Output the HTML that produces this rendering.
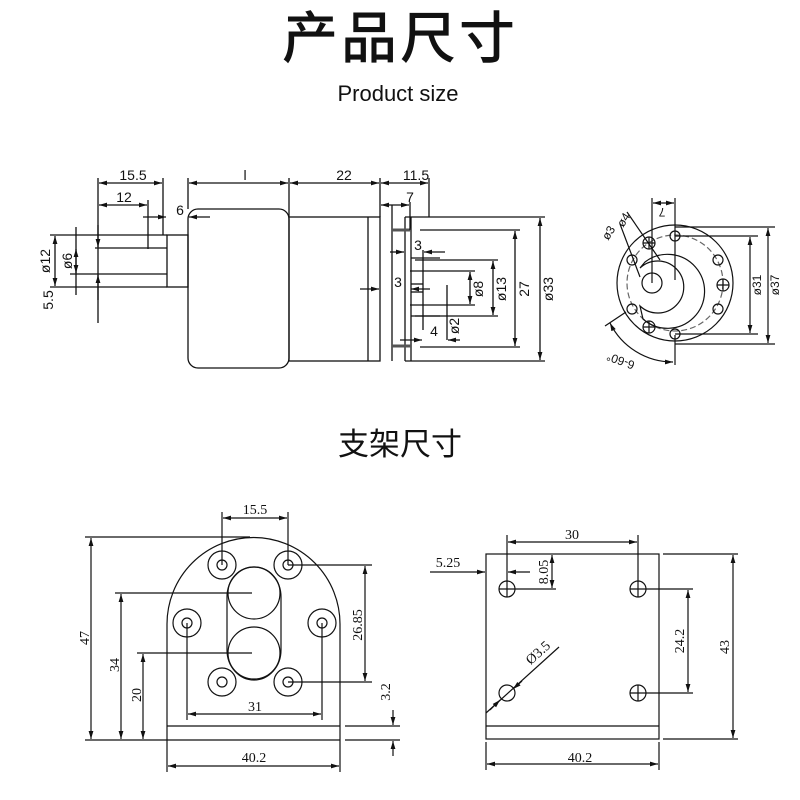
<!DOCTYPE html>
<html><head><meta charset="utf-8"><style>
html,body{margin:0;padding:0;background:#fff;}
svg{display:block;}
text{font-family:"Liberation Sans","Noto Sans CJK SC",sans-serif;fill:#111;}
.s{font-family:"Liberation Serif","Noto Serif CJK SC",serif;}
</style></head><body>
<svg width="800" height="800" viewBox="0 0 800 800" xmlns="http://www.w3.org/2000/svg">
<defs>
<marker id="a" viewBox="0 0 10 6" refX="10" refY="3" markerWidth="8" markerHeight="5" orient="auto-start-reverse" markerUnits="userSpaceOnUse"><path d="M0,0 L10,3 L0,6z" fill="#111"/></marker>
</defs>
<text x="400" y="58" text-anchor="middle" font-size="56" font-weight="500" style="font-family:'Noto Sans CJK SC',sans-serif" letter-spacing="3">产品尺寸</text>
<text x="398" y="101" text-anchor="middle" font-size="22">Product size</text>
<text x="400" y="455" text-anchor="middle" font-size="31" style="font-family:'Noto Sans CJK SC',sans-serif">支架尺寸</text>

<g stroke="#111" stroke-width="1.3" fill="none">
<rect x="188" y="209" width="101" height="159" rx="10"/>
<rect x="289" y="217" width="91" height="144"/>
<line x1="368" y1="217" x2="368" y2="361"/>
<rect x="167" y="235" width="21" height="52"/>
<line x1="50" y1="235" x2="167" y2="235"/>
<line x1="50" y1="287" x2="167" y2="287"/>
<line x1="95" y1="248" x2="167" y2="248"/>
<line x1="70" y1="274" x2="167" y2="274"/>
<line x1="392" y1="205" x2="392" y2="361"/>
<line x1="405" y1="217" x2="405" y2="361"/>
<line x1="411" y1="217" x2="411" y2="361"/>
<line x1="405" y1="217" x2="545" y2="217"/>
<line x1="405" y1="361" x2="545" y2="361"/>
<line x1="392" y1="230" x2="411" y2="230" stroke-width="3" stroke="#555"/>
<line x1="392" y1="346" x2="411" y2="346" stroke-width="3" stroke="#555"/>
<line x1="420" y1="230" x2="520" y2="230"/>
<line x1="420" y1="347" x2="520" y2="347"/>
<line x1="423" y1="250" x2="423" y2="330"/>
<line x1="411" y1="258" x2="440" y2="258"/>
<line x1="411" y1="316" x2="440" y2="316"/>
<line x1="415" y1="260" x2="498" y2="260"/>
<line x1="415" y1="316" x2="498" y2="316"/>
<line x1="410" y1="271" x2="475" y2="271"/>
<line x1="410" y1="305" x2="475" y2="305"/>
<line x1="411" y1="284" x2="423" y2="284"/><line x1="411" y1="292" x2="423" y2="292"/>
<line x1="98" y1="178" x2="98" y2="323"/>
<line x1="163" y1="178" x2="163" y2="235"/>
<line x1="188" y1="178" x2="188" y2="209"/>
<line x1="289" y1="178" x2="289" y2="217"/>
<line x1="380" y1="178" x2="380" y2="217"/>
<line x1="429" y1="178" x2="429" y2="217"/>
<line x1="148" y1="200" x2="148" y2="249"/>
<line x1="410" y1="202" x2="410" y2="230"/>
<line x1="99" y1="183" x2="162" y2="183" marker-start="url(#a)" marker-end="url(#a)"/>
<line x1="189" y1="183" x2="288" y2="183" marker-start="url(#a)" marker-end="url(#a)"/>
<line x1="290" y1="183" x2="379" y2="183" marker-start="url(#a)" marker-end="url(#a)"/>
<line x1="381" y1="183" x2="428" y2="183" marker-start="url(#a)" marker-end="url(#a)"/>
<line x1="99" y1="205" x2="147" y2="205" marker-start="url(#a)" marker-end="url(#a)"/>
<line x1="381" y1="205" x2="409" y2="205" marker-start="url(#a)" marker-end="url(#a)"/>
<line x1="143" y1="217" x2="166" y2="217" marker-end="url(#a)"/>
<line x1="210" y1="217" x2="189" y2="217" marker-end="url(#a)"/>
<line x1="98" y1="225" x2="98" y2="247" marker-end="url(#a)"/>
<line x1="98" y1="300" x2="98" y2="275" marker-end="url(#a)"/>
<line x1="55" y1="236" x2="55" y2="286" marker-start="url(#a)" marker-end="url(#a)"/>
<line x1="76" y1="227" x2="76" y2="295"/>
<line x1="76" y1="249" x2="76" y2="273" marker-start="url(#a)" marker-end="url(#a)"/>
<line x1="540" y1="218" x2="540" y2="360" marker-start="url(#a)" marker-end="url(#a)"/>
<line x1="515" y1="231" x2="515" y2="346" marker-start="url(#a)" marker-end="url(#a)"/>
<line x1="493" y1="261" x2="493" y2="315" marker-start="url(#a)" marker-end="url(#a)"/>
<line x1="470" y1="272" x2="470" y2="304" marker-start="url(#a)" marker-end="url(#a)"/>
<line x1="447" y1="285" x2="447" y2="340"/>
<line x1="390" y1="252" x2="404" y2="252" marker-end="url(#a)"/>
<line x1="445" y1="252" x2="424" y2="252" marker-end="url(#a)"/>
<line x1="360" y1="289" x2="379" y2="289" marker-end="url(#a)"/>
<line x1="430" y1="289" x2="411" y2="289" marker-end="url(#a)"/>
<line x1="400" y1="340" x2="422" y2="340" marker-end="url(#a)"/>
<line x1="460" y1="340" x2="448" y2="340" marker-end="url(#a)"/>
</g>
<g font-size="14">
<text x="133" y="180" text-anchor="middle">15.5</text>
<text x="245" y="180" text-anchor="middle">l</text>
<text x="344" y="180" text-anchor="middle">22</text>
<text x="416" y="180" text-anchor="middle">11.5</text>
<text x="124" y="202" text-anchor="middle">12</text>
<text x="180" y="215" text-anchor="middle">6</text>
<text x="410" y="202" text-anchor="middle">7</text>
<text x="418" y="250" text-anchor="middle">3</text>
<text x="398" y="287" text-anchor="middle">3</text>
<text x="434" y="336" text-anchor="middle">4</text>
<text transform="translate(53,300) rotate(-90)" text-anchor="middle">5.5</text>
<text transform="translate(50,261) rotate(-90)" text-anchor="middle">ø12</text>
<text transform="translate(72,261) rotate(-90)" text-anchor="middle">ø6</text>
<text transform="translate(553,289) rotate(-90)" text-anchor="middle">ø33</text>
<text transform="translate(529,289) rotate(-90)" text-anchor="middle">27</text>
<text transform="translate(506,289) rotate(-90)" text-anchor="middle">ø13</text>
<text transform="translate(483,289) rotate(-90)" text-anchor="middle">ø8</text>
<text transform="translate(459,326) rotate(-90)" text-anchor="middle">ø2</text>
</g>

<g stroke="#111" stroke-width="1.2" fill="none">
<circle cx="675" cy="283" r="58"/>
<circle cx="675" cy="283" r="48" stroke-dasharray="6 3" stroke="#666"/>
<path d="M643,319 A37,37 0 1 0 645,262 L 640,268 A26,26 0 1 1 640,306 Z"/>
<circle cx="652" cy="283" r="10"/>
<circle cx="675" cy="236" r="5"/><circle cx="675" cy="334" r="5"/>
<circle cx="632" cy="260" r="5"/><circle cx="718" cy="260" r="5"/>
<circle cx="632" cy="309" r="5"/><circle cx="718" cy="309" r="5"/>
<circle cx="649" cy="243" r="6"/><path d="M643,243h12M649,237v12"/>
<circle cx="723" cy="285" r="6"/><path d="M717,285h12M723,279v12"/>
<circle cx="649" cy="327" r="6"/><path d="M643,327h12M649,321v12"/>
<line x1="652" y1="198" x2="652" y2="283"/>
<line x1="675" y1="198" x2="675" y2="280"/>
<line x1="653" y1="203" x2="674" y2="203" marker-start="url(#a)" marker-end="url(#a)"/>
<line x1="675" y1="335" x2="675" y2="365"/>
<line x1="627" y1="212" x2="660" y2="260"/>
<line x1="620" y1="224" x2="640" y2="277"/>
<line x1="675" y1="236" x2="758" y2="236"/>
<line x1="675" y1="334" x2="758" y2="334"/>
<line x1="675" y1="227" x2="775" y2="227"/>
<line x1="675" y1="344" x2="775" y2="344"/>
<line x1="750" y1="237" x2="750" y2="333" marker-start="url(#a)" marker-end="url(#a)"/>
<line x1="768" y1="228" x2="768" y2="343" marker-start="url(#a)" marker-end="url(#a)"/>
<line x1="626" y1="312" x2="605" y2="326"/>
<path d="M610,323 A70,70 0 0 0 673,362" marker-start="url(#a)" marker-end="url(#a)"/>
</g>
<g font-size="12">
<text transform="translate(761,285) rotate(-90)" text-anchor="middle">ø31</text>
<text transform="translate(779,285) rotate(-90)" text-anchor="middle">ø37</text>
<text transform="translate(662,208) rotate(180)" text-anchor="middle">7</text>
<text transform="translate(612,235) rotate(-58)" text-anchor="middle">ø3</text>
<text transform="translate(627,222) rotate(-58)" text-anchor="middle">ø4</text>
<text transform="translate(622,357) rotate(200)" text-anchor="middle">6-60°</text>
</g>

<g stroke="#111" stroke-width="1.2" fill="none">
<path d="M167,740 L167,624 A86.5,86.5 0 0 1 340,624 L340,740"/>
<line x1="167" y1="726" x2="340" y2="726"/>
<line x1="85" y1="740" x2="340" y2="740"/>
<line x1="345" y1="726" x2="400" y2="726"/><line x1="345" y1="740" x2="400" y2="740"/>
<circle cx="222" cy="565" r="14"/><circle cx="222" cy="565" r="5"/>
<circle cx="288" cy="565" r="14"/><circle cx="288" cy="565" r="5"/>
<circle cx="187" cy="623" r="14"/><circle cx="187" cy="623" r="5"/>
<circle cx="322" cy="623" r="14"/><circle cx="322" cy="623" r="5"/>
<circle cx="222" cy="682" r="14"/><circle cx="222" cy="682" r="5"/>
<circle cx="288" cy="682" r="14"/><circle cx="288" cy="682" r="5"/>
<circle cx="254" cy="593" r="26"/><circle cx="254" cy="653" r="26"/>
<path d="M227,597 A27,30 0 0 1 281,597 L281,650 A27,30 0 0 1 227,650 Z"/>
<line x1="115" y1="593" x2="252" y2="593"/>
<line x1="137" y1="653" x2="252" y2="653"/>
<line x1="85" y1="537" x2="250" y2="537"/>
<line x1="222" y1="512" x2="222" y2="565"/><line x1="288" y1="512" x2="288" y2="565"/>
<line x1="223" y1="518" x2="287" y2="518" marker-start="url(#a)" marker-end="url(#a)"/>
<line x1="288" y1="565" x2="372" y2="565"/><line x1="288" y1="682" x2="372" y2="682"/>
<line x1="365" y1="566" x2="365" y2="681" marker-start="url(#a)" marker-end="url(#a)"/>
<line x1="187" y1="623" x2="187" y2="720"/><line x1="322" y1="623" x2="322" y2="720"/>
<line x1="188" y1="714" x2="321" y2="714" marker-start="url(#a)" marker-end="url(#a)"/>
<line x1="91" y1="538" x2="91" y2="739" marker-start="url(#a)" marker-end="url(#a)"/>
<line x1="121" y1="594" x2="121" y2="739" marker-start="url(#a)" marker-end="url(#a)"/>
<line x1="143" y1="654" x2="143" y2="739" marker-start="url(#a)" marker-end="url(#a)"/>
<line x1="393" y1="710" x2="393" y2="725" marker-end="url(#a)"/>
<line x1="393" y1="756" x2="393" y2="741" marker-end="url(#a)"/>
<line x1="167" y1="740" x2="167" y2="772"/><line x1="340" y1="740" x2="340" y2="772"/>
<line x1="168" y1="766" x2="339" y2="766" marker-start="url(#a)" marker-end="url(#a)"/>
</g>
<g font-size="14">
<text class="s" x="255" y="514" text-anchor="middle">15.5</text>
<text class="s" x="255" y="711" text-anchor="middle">31</text>
<text class="s" x="254" y="762" text-anchor="middle">40.2</text>
<text class="s" transform="translate(89,638) rotate(-90)" text-anchor="middle">47</text>
<text class="s" transform="translate(119,665) rotate(-90)" text-anchor="middle">34</text>
<text class="s" transform="translate(141,695) rotate(-90)" text-anchor="middle">20</text>
<text class="s" transform="translate(362,625) rotate(-90)" text-anchor="middle">26.85</text>
<text class="s" transform="translate(390,692) rotate(-90)" text-anchor="middle">3.2</text>
</g>

<g stroke="#111" stroke-width="1.2" fill="none">
<rect x="486" y="554" width="173" height="185"/>
<line x1="486" y1="726" x2="659" y2="726"/>
<circle cx="507" cy="589" r="8"/><path d="M499,589h16M507,581v16"/>
<circle cx="638" cy="589" r="8"/><path d="M630,589h16M638,581v16"/>
<circle cx="638" cy="693" r="8"/><path d="M630,693h16M638,685v16"/>
<circle cx="507" cy="693" r="8"/>
<line x1="507" y1="535" x2="507" y2="581"/><line x1="638" y1="535" x2="638" y2="581"/>
<line x1="508" y1="542" x2="637" y2="542" marker-start="url(#a)" marker-end="url(#a)"/>
<line x1="430" y1="572" x2="485" y2="572" marker-end="url(#a)"/>
<line x1="530" y1="572" x2="508" y2="572" marker-end="url(#a)"/>
<line x1="515" y1="589" x2="556" y2="589"/>
<line x1="552" y1="555" x2="552" y2="588" marker-start="url(#a)" marker-end="url(#a)"/>
<line x1="646" y1="589" x2="693" y2="589"/><line x1="646" y1="693" x2="693" y2="693"/>
<line x1="688" y1="590" x2="688" y2="692" marker-start="url(#a)" marker-end="url(#a)"/>
<line x1="663" y1="554" x2="738" y2="554"/><line x1="663" y1="739" x2="738" y2="739"/>
<line x1="733" y1="555" x2="733" y2="738" marker-start="url(#a)" marker-end="url(#a)"/>
<line x1="486" y1="742" x2="486" y2="770"/><line x1="659" y1="742" x2="659" y2="770"/>
<line x1="487" y1="764" x2="658" y2="764" marker-start="url(#a)" marker-end="url(#a)"/>
<line x1="486" y1="713" x2="559" y2="647"/>
<line x1="490" y1="710" x2="500" y2="700" marker-end="url(#a)"/>
<line x1="522" y1="681" x2="513" y2="689" marker-end="url(#a)"/>
</g>
<g font-size="14">
<text class="s" x="572" y="539" text-anchor="middle">30</text>
<text class="s" x="448" y="567" text-anchor="middle">5.25</text>
<text class="s" x="580" y="762" text-anchor="middle">40.2</text>
<text class="s" transform="translate(548,572) rotate(-90)" text-anchor="middle">8.05</text>
<text class="s" transform="translate(684,641) rotate(-90)" text-anchor="middle">24.2</text>
<text class="s" transform="translate(729,647) rotate(-90)" text-anchor="middle">43</text>
<text class="s" transform="translate(541,656) rotate(-42)" text-anchor="middle">Ø3.5</text>
</g>
</svg>
</body></html>
